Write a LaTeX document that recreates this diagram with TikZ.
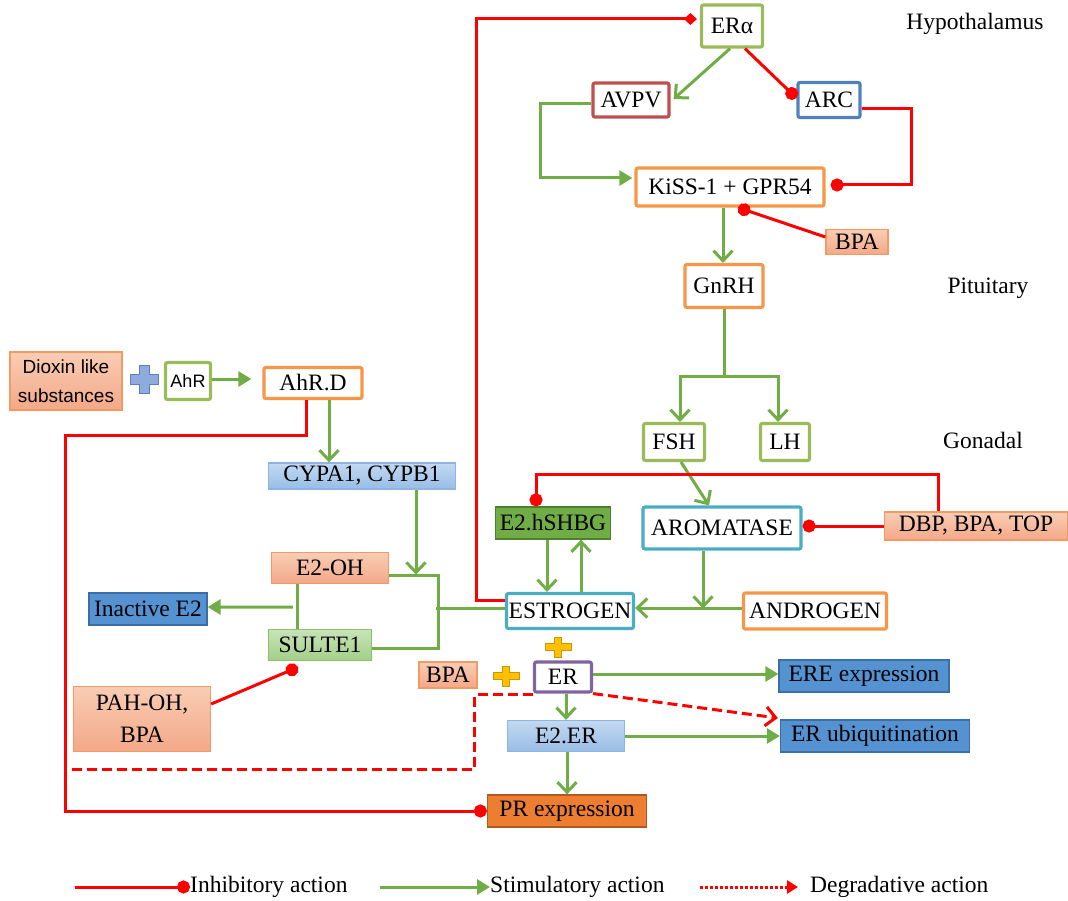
\documentclass[tikz,border=0pt]{standalone}
\usepackage{fontspec}
\setmainfont{Liberation Serif}
\setsansfont{Liberation Sans}
\usetikzlibrary{arrows.meta,calc}

\definecolor{inhRed}{HTML}{FF0000}
\definecolor{stimGreen}{HTML}{70AD47}
\definecolor{frameGreen}{HTML}{9BBB59}
\definecolor{frameOrange}{HTML}{F79646}
\definecolor{frameCyan}{HTML}{4BACC6}
\definecolor{frameRed}{HTML}{C0504D}
\definecolor{frameBlue}{HTML}{4F81BD}
\definecolor{framePurple}{HTML}{8064A2}
\definecolor{salmonTop}{HTML}{F9CDB4}
\definecolor{salmonBot}{HTML}{F3A888}
\definecolor{salmonLine}{HTML}{F29A62}
\definecolor{lbTop}{HTML}{C2D9F1}
\definecolor{lbBot}{HTML}{98BDE6}
\definecolor{lbLine}{HTML}{8EB4E3}
\definecolor{dbFill}{HTML}{5592D2}
\definecolor{dbLine}{HTML}{3A6EA5}
\definecolor{lgTop}{HTML}{C8E3B8}
\definecolor{lgBot}{HTML}{A3CF88}
\definecolor{lgLine}{HTML}{8CC168}
\definecolor{shbgFill}{HTML}{70AD47}
\definecolor{shbgLine}{HTML}{4E7E30}
\definecolor{prFill}{HTML}{ED7D31}
\definecolor{prLine}{HTML}{AE5A21}
\definecolor{plusBlue}{HTML}{8FAADC}
\definecolor{plusBlueLine}{HTML}{5B7FC4}
\definecolor{plusYellow}{HTML}{FFC000}
\definecolor{plusYellowLine}{HTML}{C99700}

\begin{document}
\begin{tikzpicture}[x=1pt, y=-1pt, font=\fontsize{23.5}{27}\selectfont]
    \useasboundingbox (0,0) rectangle (1068,901);
    % Define styles for nodes and arrows
    \tikzstyle{outlined} = [rectangle, rounded corners=2pt, fill=white, line width=3.2pt, inner sep=0pt, text centered]
    \tikzstyle{block} = [rectangle, line width=1.3pt, inner sep=0pt, text centered]
    \tikzstyle{toxicblock} = [block, draw=salmonLine, top color=salmonTop, bottom color=salmonBot]
    \tikzstyle{lightblueblock} = [block, draw=lbLine, top color=lbTop, bottom color=lbBot]
    \tikzstyle{blueblock} = [block, draw=dbLine, fill=dbFill]
    \tikzstyle{greenblock} = [block, draw=lgLine, top color=lgTop, bottom color=lgBot]
    \tikzstyle{region} = [inner sep=0pt]
    \tikzstyle{legend} = [inner sep=0pt, anchor=west]
    % Arrow styles for the three kinds of action
    \tikzset{inhibit/.style={color=inhRed, line width=3pt, -{Circle[length=13pt]}},
        inhibitdia/.style={color=inhRed, line width=3pt, -{Diamond[length=13pt,width=12pt]}},
        stimline/.style={color=stimGreen, line width=3pt},
        stimulate/.style={stimline, -{Straight Barb[length=10pt,width=19pt]}},
        stimulatetri/.style={stimline, -{Triangle[length=13pt,width=15pt]}},
        degrade/.style={color=inhRed, line width=3pt, dash pattern=on 10pt off 5pt},
        degradearrow/.style={degrade, -{Straight Barb[length=10pt,width=19pt]}},
        degradelegend/.style={color=inhRed, line width=3pt, dash pattern=on 3pt off 2pt, -{Triangle[length=11pt,width=13pt]}}
    }
    % Regions
    \node (hypo) [region] at (975,24) {Hypothalamus};
    \node (pit) [region] at (988,288) {Pituitary};
    \node (gon) [region] at (983,440) {Gonadal};
    % Nodes
    \node (ERa) [outlined, draw=frameGreen, minimum width=61pt, minimum height=42pt] at (732,26) {ERα};
    \node (AVPV) [outlined, draw=frameRed, minimum width=76pt, minimum height=34pt] at (631,100) {AVPV};
    \node (ARC) [outlined, draw=frameBlue, minimum width=62pt, minimum height=35pt] at (829,100) {ARC};
    \node (KiSS) [outlined, draw=frameOrange, minimum width=188pt, minimum height=38pt] at (730,187) {KiSS-1 + GPR54};
    \node (BPAtop) [toxicblock, minimum width=62pt, minimum height=25pt] at (857,242) {BPA};
    \node (GnRH) [outlined, draw=frameOrange, minimum width=78pt, minimum height=43pt] at (724,286) {GnRH};
    \node (FSH) [outlined, draw=frameGreen, minimum width=61pt, minimum height=37pt] at (674,442) {FSH};
    \node (LH) [outlined, draw=frameGreen, minimum width=49pt, minimum height=37pt] at (785,442) {LH};
    \node (Dioxin) [toxicblock, minimum width=112pt, minimum height=58pt, align=center, font=\sffamily\fontsize{19}{29}\selectfont] at (66,381) {Dioxin like\\substances};
    \node (AhR) [outlined, draw=frameGreen, minimum width=45pt, minimum height=37pt, font=\sffamily\fontsize{18}{22}\selectfont] at (188,381) {AhR};
    \node (AhRD) [outlined, draw=frameOrange, minimum width=98pt, minimum height=31pt] at (313,383) {AhR.D};
    \node (CYP) [lightblueblock, minimum width=187pt, minimum height=26pt] at (362,476) {CYPA1, CYPB1};
    \node (E2OH) [toxicblock, minimum width=117pt, minimum height=31pt] at (330,568) {E2-OH};
    \node (InE2) [blueblock, minimum width=118pt, minimum height=32pt] at (148,609) {Inactive E2};
    \node (SULTE) [greenblock, minimum width=103pt, minimum height=31pt] at (320,645) {SULTE1};
    \node (PAH) [toxicblock, minimum width=137pt, minimum height=65pt, align=center, font=\fontsize{23.5}{32}\selectfont] at (142,719) {PAH-OH,\\BPA};
    \node (SHBG) [block, draw=shbgLine, fill=shbgFill, minimum width=115pt, minimum height=32pt] at (553,523) {E2.hSHBG};
    \node (AROM) [outlined, draw=frameCyan, minimum width=158pt, minimum height=42pt] at (722,528) {AROMATASE};
    \node (DBP) [toxicblock, minimum width=183pt, minimum height=28pt] at (976,526) {DBP, BPA, TOP};
    \node (ESTR) [outlined, draw=frameCyan, minimum width=127pt, minimum height=35pt] at (570,611) {ESTROGEN};
    \node (ANDR) [outlined, draw=frameOrange, minimum width=143pt, minimum height=36pt] at (815,611) {ANDROGEN};
    \node (BPAlow) [toxicblock, minimum width=58pt, minimum height=26pt] at (448,675) {BPA};
    \node (ER) [outlined, draw=framePurple, minimum width=57pt, minimum height=30pt] at (563,677) {ER};
    \node (ERE) [blueblock, minimum width=170pt, minimum height=32pt] at (864,676) {ERE expression};
    \node (E2ER) [lightblueblock, minimum width=117pt, minimum height=31pt] at (566,736) {E2.ER};
    \node (UBQ) [blueblock, minimum width=189pt, minimum height=32pt] at (875,736) {ER ubiquitination};
    \node (PR) [block, draw=prLine, fill=prFill, minimum width=159pt, minimum height=32pt] at (567,811) {PR expression};
    % Plus signs
    \draw [fill=plusBlue, draw=plusBlueLine, line width=1pt, shift={(144,379)}] (-14,-5) -- (-5,-5) -- (-5,-14) -- (5,-14) -- (5,-5) -- (14,-5) -- (14,5) -- (5,5) -- (5,14) -- (-5,14) -- (-5,5) -- (-14,5) -- cycle;
    \draw [fill=plusYellow, draw=plusYellowLine, line width=1pt, shift={(558,647)}] (-13,-3.5) -- (-3.5,-3.5) -- (-3.5,-10) -- (3.5,-10) -- (3.5,-3.5) -- (13,-3.5) -- (13,3.5) -- (3.5,3.5) -- (3.5,10) -- (-3.5,10) -- (-3.5,3.5) -- (-13,3.5) -- cycle;
    \draw [fill=plusYellow, draw=plusYellowLine, line width=1pt, shift={(506,676)}] (-13,-3.5) -- (-3.5,-3.5) -- (-3.5,-10) -- (3.5,-10) -- (3.5,-3.5) -- (13,-3.5) -- (13,3.5) -- (3.5,3.5) -- (3.5,10) -- (-3.5,10) -- (-3.5,3.5) -- (-13,3.5) -- cycle;
    % Arrows (hypothalamus and pituitary)
    \draw [inhibitdia] ($(ESTR.west)+(0,-11)$) -- ++(-28,0) |- ($(ERa.west)+(-3,-7)$);
    \draw [stimulate] ($(ERa.south)+(-2,0)$) -- ($(AVPV.east)+(3,-1)$);
    \draw [inhibit] ($(ERa.south)+(13,0)$) -- ($(ARC.west)+(0,-2)$);
    \draw [stimulatetri] ($(AVPV.west)+(0,4)$) -- ++(-51,0) |- ($(KiSS.west)+(-2,-9)$);
    \draw [inhibit] ($(ARC.east)+(0,9)$) -- ++(50,0) |- ($(KiSS.east)+(5,-2)$);
    \draw [inhibit] ($(BPAtop.west)+(0,-5)$) -- ($(KiSS.south)+(8,0)$);
    \draw [stimulate] ($(KiSS.south)+(-7,0)$) -- ($(GnRH.north)+(-1,0)$);
    \draw [stimulate] (GnRH.south) -- ++(0,67) -| ($(FSH.north)+(6,0)$);
    \draw [stimulate] ($(GnRH.south)+(0,67)$) -| ($(LH.north)+(-7,0)$);
    % Arrows (gonadal)
    \draw [stimulate] ($(FSH.south)+(7,0)$) -- ($(AROM.north)+(-13,0)$);
    \draw [inhibit] ($(DBP.north)+(-38,0)$) -- ++(0,-37) -| ($(SHBG.north)+(-17,0)$);
    \draw [inhibit] (DBP.west) -- (DBP.west -| AROM.east);
    \draw [stimulate] ($(SHBG.south)+(-6,0)$) -- ($(ESTR.north)+(-23,0)$);
    \draw [stimulate] ($(ESTR.north)+(11,0)$) -- ($(SHBG.south)+(28,0)$);
    \draw [stimulate] ($(AROM.south)+(-19,0)$) -- ++(0,58);
    \draw [stimulate] ($(ANDR.west)+(0,-3)$) -- ($(ESTR.east)+(0,-3)$);
    % Arrows (dioxin pathway)
    \draw [stimulatetri] ($(AhR.east)+(0,-2)$) -- ($(AhRD.west)+(-11,-4)$);
    \draw [stimulate] ($(AhRD.south)+(16,0)$) -- ($(CYP.north)+(-33,0)$);
    \draw [inhibit] ($(AhRD.south)+(-7,0)$) -- ++(0,35) -- ++(-241,0) |- (PR.west);
    \draw [stimulate] ($(CYP.south)+(54,0)$) -- ++(0,85);
    \draw [stimline] ($(E2OH.east)+(0,7)$) -- ++(49,0) |- ($(SULTE.east)+(0,3)$);
    \draw [stimline] ($(ESTR.west)+(0,-3)$) -- ++(-69,0);
    \draw [stimline] ($(E2OH.south)+(-33,0)$) -- ($(SULTE.north)+(-23,0)$);
    \draw [stimulatetri] ($(E2OH.south)+(-37,23)$) -- ($(InE2.east)+(0,-2)$);
    \draw [inhibit] ($(PAH.east)+(0,-15)$) -- ($(SULTE.south)+(-22,6)$);
    % Arrows (receptor)
    \coordinate (dashEnd) at (65,769);
    \draw [degrade] ($(ER.south west)+(0,1)$) -- ++(-58,0) |- (dashEnd);
    \draw [degradearrow] (ER.south east) -- ($(UBQ.west)+(-2,-18)$);
    \draw [stimulatetri] ($(ER.east)+(0,-3)$) -- ($(ERE.west)+(0,-2)$);
    \draw [stimulate] ($(ER.south)+(3,0)$) -- (E2ER.north);
    \draw [stimulatetri] (E2ER.east) -- (UBQ.west);
    \draw [stimulate] ($(E2ER.south)+(1,0)$) -- (PR.north);
    % Legend
    \coordinate (inhStart) at (75,887);
    \coordinate (stimStart) at (380,887);
    \coordinate (degStart) at (700,887);
    \node (inhTxt) [legend] at (190,887) {Inhibitory action};
    \node (stimTxt) [legend] at (490,887) {Stimulatory action};
    \node (degTxt) [legend] at (810,887) {Degradative action};
    \draw [inhibit] (inhStart) -- (inhTxt.west);
    \draw [stimulatetri] (stimStart) -- (stimTxt.west);
    \draw [degradelegend] (degStart) -- ($(degTxt.west)+(-12,0)$);
\end{tikzpicture}
\end{document}
